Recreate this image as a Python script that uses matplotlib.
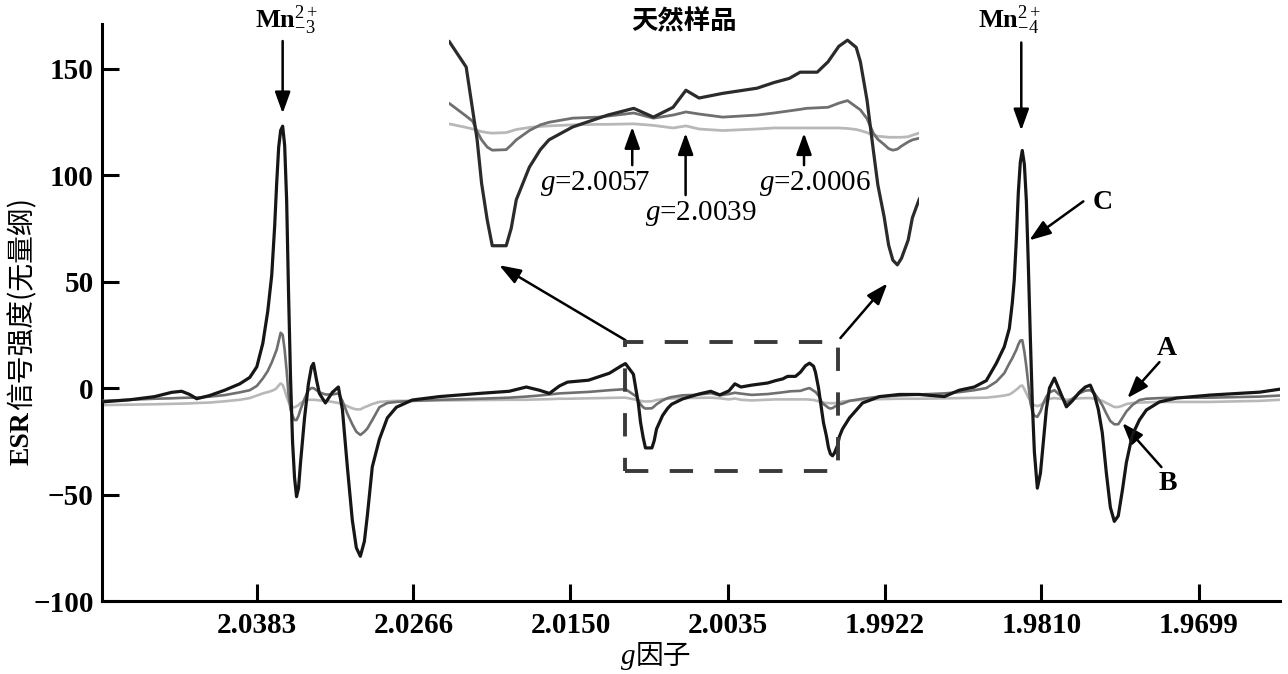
import numpy as np
import matplotlib
matplotlib.use('Agg')
import matplotlib.pyplot as plt
from matplotlib.patches import Rectangle

plt.rcParams['font.family'] = ['Liberation Serif', 'Noto Sans CJK SC']
plt.rcParams['mathtext.fontset'] = 'custom'
plt.rcParams['mathtext.rm'] = 'Liberation Serif'
plt.rcParams['mathtext.it'] = 'Liberation Serif:italic'
plt.rcParams['mathtext.bf'] = 'Liberation Serif:bold'

# g factor of every sample (shared by the three spectra)
g_factor = [
    2.05000, 2.04789, 2.04600, 2.04472, 2.04396, 2.04336, 2.04283, 2.04185, 2.04072, 2.03958,
    2.03883, 2.03830, 2.03785, 2.03748, 2.03718, 2.03696, 2.03681, 2.03666, 2.03651, 2.03636,
    2.03621, 2.03606, 2.03592, 2.03577, 2.03562, 2.03547, 2.03532, 2.03517, 2.03502, 2.03472,
    2.03443, 2.03420, 2.03405, 2.03383, 2.03361, 2.03316, 2.03264, 2.03219, 2.03189, 2.03152,
    2.03115, 2.03085, 2.03055, 2.03025, 2.03003, 2.02966, 2.02913, 2.02854, 2.02787, 2.02668,
    2.02468, 2.02172, 2.01951, 2.01825, 2.01729, 2.01655, 2.01581, 2.01522, 2.01368, 2.01214,
    2.01126, 2.01097, 2.01039, 2.01017, 2.01002, 2.00987, 2.00968, 2.00951, 2.00904, 2.00887,
    2.00870, 2.00826, 2.00789, 2.00760, 2.00680, 2.00592, 2.00562, 2.00475, 2.00409, 2.00343,
    2.00300, 2.00256, 2.00177, 2.00062, 2.00005, 1.99954, 1.99918, 1.99897, 1.99861, 1.99825,
    1.99789, 1.99760, 1.99731, 1.99717, 1.99695, 1.99674, 1.99659, 1.99638, 1.99623, 1.99609,
    1.99594, 1.99580, 1.99558, 1.99544, 1.99522, 1.99472, 1.99378, 1.99256, 1.99113, 1.98970,
    1.98792, 1.98685, 1.98578, 1.98492, 1.98421, 1.98364, 1.98328, 1.98307, 1.98293, 1.98278,
    1.98264, 1.98250, 1.98236, 1.98221, 1.98207, 1.98193, 1.98178, 1.98164, 1.98150, 1.98129,
    1.98107, 1.98086, 1.98065, 1.98043, 1.98008, 1.97966, 1.97923, 1.97881, 1.97831, 1.97789,
    1.97754, 1.97725, 1.97697, 1.97669, 1.97640, 1.97612, 1.97584, 1.97556, 1.97527, 1.97499,
    1.97457, 1.97407, 1.97358, 1.97266, 1.97146, 1.96913, 1.96561, 1.96421]

# spectrum C (black)
esr_C = [
    -6.5, -5.5, -4.0, -2.0, -1.5, -3.0, -5.0, -3.5, -1.0, 2.0,
    5.0, 10, 21, 36, 53, 76, 96, 113, 121, 123,
    114, 88, 45, 5, -25, -42, -51, -47, -35, -14,
    2, 10, 11.6, 4, -2.5, -7, -2, 0.5, -10, -37,
    -62, -75, -79, -72, -60, -37, -24, -14, -9, -5.6,
    -4, -2.5, -1.5, 0.5, -1, -2.5, 1, 2.8, 3.7, 7,
    10.5, 11.5, 6.5, -1.8, -7.6, -16, -23.1, -28.1, -28.1, -24.7,
    -19.2, -12.9, -9.5, -7.6, -5.1, -3.4, -2.8, -1.5, -3.2, -1.3,
    2.0, 0.5, 1.4, 2.4, 3.5, 4.3, 5.5, 5.5, 5.5, 7.5,
    10.5, 11.7, 10.3, 7.5, 0.1, -9.6, -16.3, -22.5, -28, -30.9,
    -31.8, -30.5, -27, -22.7, -19.2, -14, -7, -4, -3, -3,
    -4, -1, 0.5, 3.5, 11.6, 19.4, 28, 40, 50.7, 70,
    92, 106, 111.6, 105, 88, 58, 22, -8, -30, -47,
    -40, -25, -10, 0, 4.7, -2, -8.8, -6, -2, 0.5,
    1.4, -3, -10, -21, -40, -56, -62.6, -60, -48, -35,
    -22, -15, -10.3, -6.5, -4.7, -3.3, -1.9, -0.5]

# spectrum B (grey)
esr_B = [
    -6.0, -5.5, -5.0, -4.8, -4.6, -4.5, -4.5, -4.0, -3.3, -2.0,
    -1.0, 1, 4.5, 8, 12, 15.5, 18, 22, 26, 25,
    18, 8, -3, -10, -13, -15, -15, -13, -10, -5,
    -1, 0, 0, -1, -2, -3, -3, -2.5, -6, -12,
    -17, -20.5, -22, -20.5, -19, -15, -9, -7, -6.5, -6,
    -5.5, -5, -4.5, -4, -3.5, -3, -2.5, -2.3, -1.8, -1,
    -0.6, -0.5, -3.0, -4.0, -6.0, -7.6, -9.0, -9.6, -9.5, -8.6,
    -7.6, -5.8, -4.7, -4.2, -3.4, -3.2, -3.0, -2.4, -3.4, -2.8,
    -2.2, -2.6, -3.2, -2.8, -2.4, -2.0, -1.7, -1.5, -1.4, -1.3,
    -0.5, 0, -1.2, -1.8, -3.5, -6.3, -7.5, -8.5, -9.3, -9.6,
    -9.4, -8.8, -8.0, -7.6, -7.3, -6, -5, -4, -3.5, -3,
    -2.5, -1.9, -1, 0, 3, 7, 11.6, 14, 16, 18,
    20.5, 22.3, 22.5, 17, 10, 2, -7, -11, -13, -13.5,
    -11, -7, -4, -2, -1, -3.5, -7, -5, -2.5, -1.2,
    -1, -2.5, -5, -8, -12, -15.5, -17, -17, -14, -11,
    -8, -5.6, -5, -4.7, -4.5, -4.5, -4, -3.5]

# spectrum A (light grey)
esr_A = [
    -8.0, -7.8, -7.6, -7.4, -7.3, -7.2, -7.0, -6.8, -6.2, -5.5,
    -4.7, -3.5, -2.5, -1.9, -1.3, -0.7, 0, 1.2, 2.2, 1.5,
    -1, -4, -6.5, -8, -9, -9, -8.5, -8, -7, -6,
    -5.5, -5.5, -5.5, -5.6, -5.8, -6, -6.5, -7, -7.5, -8.5,
    -9.5, -10, -10, -9, -8.5, -7.5, -6.5, -6.2, -6, -6,
    -5.8, -5.6, -5.5, -5.5, -5.3, -5.2, -5, -5, -4.8, -4.6,
    -4.5, -4.5, -5.2, -5.5, -5.8, -6.0, -6.2, -6.3, -6.2, -5.9,
    -5.6, -5.2, -5.0, -4.9, -4.7, -4.6, -4.6, -4.5, -4.8, -5.3,
    -4.9, -5.5, -5.8, -5.5, -5.3, -5.3, -5.3, -5.3, -5.3, -5.3,
    -5.3, -5.4, -5.6, -5.8, -6.2, -6.7, -6.9, -7.0, -7.1, -7.1,
    -7.1, -7.1, -7.0, -6.7, -6.3, -6, -5.5, -5.2, -5, -5,
    -4.8, -4.7, -4.6, -4.5, -4, -3.5, -3, -2.2, -1.5, -0.8,
    0, 1, 1.2, -0.5, -2.5, -4.5, -6, -7.5, -8, -8.5,
    -8, -7, -6, -5, -4.7, -5, -5.5, -5.2, -4.8, -4.7,
    -4.7, -5, -5.5, -6, -7, -8, -8.9, -8.9, -8.3, -7.5,
    -7, -6.8, -6.7, -6.5, -6.5, -6.5, -6, -5.5]

g_ticks = [2.0383, 2.0266, 2.0150, 2.0035, 1.9922, 1.9810, 1.9699]
g_tick_labels = ['2.0383', '2.0266', '2.0150', '2.0035', '1.9922', '1.9810', '1.9699']
y_ticks = [-100, -50, 0, 50, 100, 150]

# zoomed window (dashed box) and inset limits
box_g = (2.01097, 1.99551)
box_y = (-39, 21.5)
inset_g = (2.01097, 1.99522)
inset_y = (-32.8, 12.7)


def to_field(g):
    # ESR field is proportional to 1/g, so ticks are equally spaced in 1/g
    return -1.0 / np.asarray(g, dtype=float)


def from_field(f):
    return -1.0 / np.asarray(f, dtype=float)


col_C, col_B, col_A = '#161616', '#6f6f6f', '#b8b8b8'
line_kw = dict(solid_joinstyle='round', solid_capstyle='round')

fig = plt.figure(figsize=(12.88, 6.74), dpi=100)
ax = fig.add_axes([102 / 1288, 1 - 601 / 674, 1178 / 1288, 577 / 674])
ax.set_xscale('function', functions=(to_field, from_field))

ax.plot(g_factor, esr_A, color=col_A, lw=1.9, zorder=2, **line_kw)
ax.plot(g_factor, esr_B, color=col_B, lw=1.9, zorder=3, **line_kw)
ax.plot(g_factor, esr_C, color=col_C, lw=2.3, zorder=4, **line_kw)

ax.set_xlim(2.05000, 1.96421)
ax.set_ylim(-100, 171)
ax.set_xticks(g_ticks, labels=g_tick_labels)
ax.set_yticks(y_ticks)
ax.yaxis.set_major_formatter(matplotlib.ticker.FuncFormatter(
    lambda v, p: ('\u2212' if v < 0 else '') + str(int(abs(v)))))
ax.minorticks_off()
for s in ['top', 'right']:
    ax.spines[s].set_visible(False)
for s in ['left', 'bottom']:
    ax.spines[s].set_linewidth(2.2)
ax.tick_params(direction='in', length=12.5, width=2.2, labelsize=21)
ax.tick_params(axis='x', pad=8)
ax.tick_params(axis='y', pad=6)
for lbl in ax.get_xticklabels() + ax.get_yticklabels():
    lbl.set_fontfamily('Liberation Serif')
    lbl.set_fontweight('bold')

# axis titles
fig.text(22 / 1288, 1 - 465 / 674, 'ESR', rotation=90, ha='center', va='bottom',
         fontsize=20, fontweight='bold', fontfamily='Liberation Serif')
fig.text(22 / 1288, 1 - 410 / 674, '信号强度(无量纲)', rotation=90, ha='center', va='bottom',
         fontsize=20, fontfamily=['Noto Sans CJK SC', 'Liberation Serif'])
fig.text(636 / 1288, 1 - 664 / 674, 'g', ha='right', va='baseline',
         fontsize=21, fontstyle='italic', fontfamily='Liberation Serif')
fig.text(636 / 1288, 1 - 664 / 674, '因子', ha='left', va='baseline',
         fontsize=20, fontfamily='Noto Sans CJK SC')

# dashed box around the zoomed part
ax.add_patch(Rectangle((box_g[0], box_y[0]), box_g[1] - box_g[0], box_y[1] - box_y[0],
                       fill=False, edgecolor='#3a3a3a', lw=2.8, linestyle=(0, (6, 5.5)), zorder=5))

arrow = dict(arrowstyle='-|>,head_length=1.0,head_width=0.36', mutation_scale=13,
             lw=1.8, color='black', shrinkA=0, shrinkB=0)

# Mn2+ hyperfine lines
ax.annotate('', xy=(2.03636, 129), xytext=(2.03636, 163), arrowprops=arrow, annotation_clip=False)
ax.text(2.03606, 172.6, 'Mn$^{\\mathrm{2+}}_{\\mathrm{-3}}$', ha='center', va='center',
        fontsize=19, fontweight='bold', fontfamily='Liberation Serif', clip_on=False)
ax.annotate('', xy=(1.98243, 121), xytext=(1.98243, 162.3), arrowprops=arrow, annotation_clip=False)
ax.text(1.98328, 172.6, 'Mn$^{\\mathrm{2+}}_{\\mathrm{-4}}$', ha='center', va='center',
        fontsize=19, fontweight='bold', fontfamily='Liberation Serif', clip_on=False)

# curve labels
for lab, txt_xy, tail, tip in [('C', (1.97669, 87.2), (1.97803, 87.7), (1.98186, 69.4)),
                                ('A', (1.97216, 18.8), (1.97266, 12.2), (1.97492, -4.7)),
                                ('B', (1.97209, -44.6), (1.97252, -37.1), (1.97527, -16.4))]:
    ax.annotate('', xy=tip, xytext=tail, arrowprops=arrow)
    ax.text(*txt_xy, lab, ha='center', va='center', fontsize=20, fontweight='bold',
            fontfamily='Liberation Serif')

# arrows from the box to the inset
ax.annotate('', xy=(2.02025, 57.7), xytext=(2.01097, 22.5), arrowprops=arrow)
ax.annotate('', xy=(1.99199, 49.2), xytext=(1.99537, 23.5), arrowprops=arrow)

# inset: magnified view of the boxed region
axi = fig.add_axes([449 / 1288, 1 - 270 / 674, 470 / 1288, 235 / 674])
axi.set_xscale('function', functions=(to_field, from_field))
axi.plot(g_factor, esr_A, color=col_A, lw=2.0, **line_kw)
axi.plot(g_factor, esr_B, color=col_B, lw=2.0, **line_kw)
axi.plot(g_factor, esr_C, color='#2b2b2b', lw=2.3, **line_kw)
axi.set_xlim(*inset_g)
axi.set_ylim(*inset_y)
axi.axis('off')
axi.text(0.5, 1.0, '天然样品', transform=axi.transAxes, ha='center', va='bottom',
         fontsize=19, fontweight='bold', fontfamily='Noto Sans CJK SC', clip_on=False)

for lab, gx, tip, tail, txt in [('2.0057', 2.00480, -5.1, -12.5, (2.00606, -15.96)),
                                ('2.0039', 2.00301, -6.3, -18.3, (2.00251, -21.8)),
                                ('2.0006', 1.99905, -6.3, -12.5, (1.99868, -15.96))]:
    axi.annotate('', xy=(gx, tip), xytext=(gx, tail), arrowprops=arrow)
    axi.text(*txt, '$g$=' + lab, ha='center', va='center', fontsize=21,
             fontfamily='Liberation Serif')

fig.savefig('out.png', dpi=100)
